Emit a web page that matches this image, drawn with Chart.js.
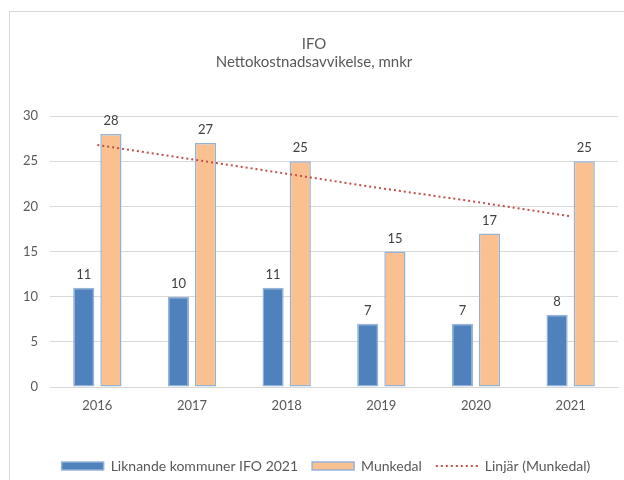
<!DOCTYPE html>
<html>
<head>
<meta charset="utf-8">
<script src="https://cdn.jsdelivr.net/npm/chart.js@4/dist/chart.umd.min.js"></script>
<style>
  body { margin: 0; background: #fff; }
  #wrap { position: relative; width: 624px; height: 480px; overflow: hidden; }
  #frame { position: absolute; left: 9px; top: 11px; width: 700px; height: 600px; border: 1px solid #d9d9d9; }
  canvas { position: absolute; left: 0; top: 0; }
</style>
</head>
<body>
<div id="wrap">
  <div id="frame"></div>
  <canvas id="myChart" width="624" height="480"></canvas>
</div>
<script>
// data
var years = ['2016', '2017', '2018', '2019', '2020', '2021'];
var liknande = [11, 10, 11, 7, 7, 8];
var munkedal = [28, 27, 25, 15, 17, 25];
// trend line
var linjar = [26.8, 25.2, 23.6, 22.0, 20.5, 18.9];
var yTicks = [0, 5, 10, 15, 20, 25, 30];

var fontName = 'Lato';

// value labels above the bars
var barLabels = {
  id: 'barLabels',
  afterDatasetsDraw: function(chart) {
    var ctx = chart.ctx;
    ctx.save();
    ctx.font = '13px ' + fontName;
    ctx.fillStyle = '#404040';
    ctx.textAlign = 'center';
    ctx.textBaseline = 'middle';
    chart.data.datasets.forEach(function(ds, i) {
      if (ds.type === 'line') return;
      chart.getDatasetMeta(i).data.forEach(function(bar, j) {
        ctx.fillText(ds.data[j], bar.x, bar.y - 13);
      });
    });
    ctx.restore();
  }
};

// legend sits a bit right of the canvas centre
var legendShift = {
  id: 'legendShift',
  afterLayout: function(chart) {
    chart.legend.left += 12;
    chart.legend.right += 12;
  }
};

new Chart(document.getElementById('myChart'), {
  type: 'bar',
  data: {
    labels: years,
    datasets: [
      {
        label: 'Liknande kommuner IFO 2021',
        data: liknande,
        backgroundColor: '#4F81BD',
        borderColor: '#95B3D7',
        borderWidth: 1.5,
        borderSkipped: false,
        pointStyle: 'rect',
        order: 2
      },
      {
        label: 'Munkedal',
        data: munkedal,
        backgroundColor: '#FAC090',
        borderColor: '#95B3D7',
        borderWidth: 1.5,
        borderSkipped: false,
        pointStyle: 'rect',
        order: 2
      },
      {
        type: 'line',
        label: 'Linjär (Munkedal)',
        data: linjar,
        borderColor: '#C0504D',
        backgroundColor: '#C0504D',
        borderWidth: 2,
        borderDash: [2, 3],
        pointRadius: 0,
        pointStyle: 'line',
        fill: false,
        order: 1
      }
    ]
  },
  options: {
    responsive: false,
    animation: false,
    categoryPercentage: 0.574,
    barPercentage: 0.78,
    layout: { padding: { top: 35, left: 10, right: 6, bottom: -3 } },
    plugins: {
      title: {
        display: true,
        text: ['IFO', 'Nettokostnadsavvikelse, mnkr'],
        color: '#595959',
        font: { family: fontName, size: 15, weight: 'normal', lineHeight: 1.2 },
        padding: { top: 0, bottom: 45 }
      },
      legend: {
        position: 'bottom',
        labels: {
          usePointStyle: true,
          pointStyleWidth: 42,
          boxHeight: 8,
          color: '#595959',
          font: { family: fontName, size: 14 },
          padding: 14,
          sort: function(a, b) { return a.datasetIndex - b.datasetIndex; },
          generateLabels: function(chart) {
            var items = Chart.defaults.plugins.legend.labels.generateLabels(chart);
            items.forEach(function(item) {
              var ds = chart.data.datasets[item.datasetIndex];
              if (ds.type === 'line') {
                item.lineDash = ds.borderDash;
                item.lineWidth = ds.borderWidth;
                item.strokeStyle = ds.borderColor;
              }
            });
            return items;
          }
        }
      },
      tooltip: { enabled: false }
    },
    scales: {
      x: {
        grid: { display: false, drawTicks: false },
        border: { display: true, color: '#d9d9d9' },
        ticks: { color: '#595959', font: { family: fontName, size: 13 }, padding: 11 },
        afterFit: function(scale) { scale.height = 58; }
      },
      y: {
        min: 0,
        max: 30,
        afterBuildTicks: function(scale) {
          scale.ticks = yTicks.map(function(v) { return { value: v }; });
        },
        grid: { color: '#d9d9d9', drawTicks: false },
        border: { display: false },
        ticks: { color: '#595959', font: { family: fontName, size: 13 }, padding: 12 },
        afterFit: function(scale) { scale.width = 40; }
      }
    }
  },
  plugins: [barLabels, legendShift]
});
</script>
</body>
</html>
